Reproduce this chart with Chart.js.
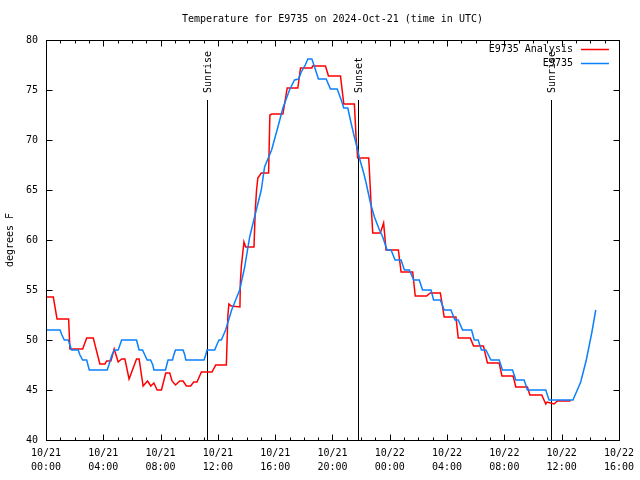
<!DOCTYPE html>
<html><head><meta charset="utf-8">
<script src="https://cdn.jsdelivr.net/npm/chart.js@4"></script>
<style>html,body{margin:0;padding:0;background:#fff}</style>
</head><body>
<canvas id="c" width="640" height="480" style="display:block;width:640px;height:480px"></canvas>
<script>
const chartTitle = 'Temperature for E9735 on 2024-Oct-21 (time in UTC)';
const yAxisLabel = 'degrees F';
const seriesNames = ['E9735 Analysis', 'E9735'];
const seriesColors = ['#ff0000', '#0a80ff'];

// hours since 10/21 00:00 UTC
const analysisHours = [0.05,0.51,0.77,1.58,1.67,2.56,2.84,3.30,3.76,4.11,4.23,4.53,4.76,5.04,5.28,5.51,5.80,6.32,6.50,6.78,7.09,7.32,7.53,7.76,8.06,8.36,8.64,8.80,9.04,9.34,9.57,9.80,10.10,10.31,10.54,10.85,11.59,11.85,12.59,12.70,12.77,12.94,13.54,13.57,13.64,13.82,13.94,14.52,14.61,14.70,14.79,15.03,15.54,15.63,15.77,16.54,16.84,17.58,17.77,18.56,18.61,19.51,19.72,20.56,20.79,21.53,21.65,21.76,22.53,22.70,22.81,23.34,23.57,23.74,24.60,24.79,25.60,25.78,26.57,26.83,27.53,27.80,28.62,28.78,29.62,29.85,30.54,30.82,31.64,31.83,32.61,32.80,33.61,33.78,34.61,34.89,34.98,35.47,35.70,36.63];
const analysisTemps = [54.3,54.3,52.1,52.1,49.1,49.1,50.2,50.2,47.6,47.6,47.9,47.9,49.1,47.8,48.1,48.1,46.1,48.1,48.1,45.4,45.9,45.4,45.7,45.0,45.0,46.7,46.7,45.9,45.5,45.9,45.9,45.4,45.4,45.8,45.8,46.8,46.8,47.5,47.5,52.5,53.6,53.4,53.3,55.8,57.4,59.8,59.3,59.3,63.0,65.0,66.2,66.7,66.7,72.5,72.6,72.6,75.2,75.2,77.2,77.2,77.4,77.4,76.4,76.4,73.6,73.6,70.2,68.2,68.2,63.5,60.7,60.7,61.7,59.0,59.0,56.8,56.8,54.4,54.4,54.7,54.7,52.3,52.3,50.2,50.2,49.4,49.4,47.7,47.7,46.4,46.4,45.3,45.3,44.5,44.5,43.6,43.8,43.6,43.9,43.9];

const obsHours = [0.05,0.98,1.11,1.28,1.55,1.67,1.79,2.25,2.37,2.56,2.84,2.93,3.02,4.27,4.39,4.49,4.60,4.79,5.04,5.16,5.28,6.32,6.41,6.50,6.74,6.90,7.06,7.30,7.46,7.53,8.34,8.43,8.52,8.83,8.92,9.04,9.57,9.69,9.76,11.03,11.15,11.24,11.78,11.92,12.08,12.24,12.54,12.75,12.96,13.24,13.52,13.87,14.22,14.56,15.03,15.26,15.75,16.19,16.54,17.00,17.35,17.63,17.82,18.10,18.28,18.56,18.75,19.02,19.56,19.86,20.33,20.61,20.79,21.07,21.25,21.53,21.76,21.88,22.18,22.35,22.65,22.93,23.28,23.51,23.81,24.09,24.37,24.79,25.02,25.37,25.67,26.06,26.29,26.88,27.06,27.53,27.80,28.27,28.55,28.78,29.08,29.71,29.90,30.17,30.40,30.71,31.06,31.64,31.87,32.57,32.80,33.38,33.61,34.89,35.12,36.79,37.33,37.72,38.10,38.38];
const obsTemps = [51,51,50.5,50,50,49.5,49,49,48.5,48,48,47.5,47,47,47.5,48,48.5,49,49,49.5,50,50,49.5,49,49,48.5,48,48,47.5,47,47,47.5,48,48,48.5,49,49,48.5,48,48,48.5,49,49,49.5,50,50,51,52,53,54,55,57.3,60.3,62.3,65,67.3,69,71.3,73.2,75,76,76.1,76.8,77.5,78.1,78.1,77.3,76.1,76.1,75.1,75.1,74,73.2,73.2,72,70.3,69,68.2,66.7,65.7,63.7,62.3,61,60.3,59,59,58,58,57,57,56,56,55,55,54,54,53,53,52,52,51,51,50,50,49,49,48,48,47,47,46,46,45,45,44,44,45.8,48,50.7,53];

const xTickHours = [0,4,8,12,16,20,24,28,32,36,40];
const xTickDates = ['10/21','10/21','10/21','10/21','10/21','10/21','10/22','10/22','10/22','10/22','10/22'];
const xTickTimes = ['00:00','04:00','08:00','12:00','16:00','20:00','00:00','04:00','08:00','12:00','16:00'];
const yTicks = [40,45,50,55,60,65,70,75,80];

const eventNames = ['Sunrise','Sunset','Sunrise'];
const eventHours = [11.24, 21.76, 35.28];

const FONT = 'DejaVu Sans Mono';
const fontSpec = {family: FONT, size: 10};

function toXY(xs, ys){ return xs.map((x,i)=>({x:x, y:ys[i]})); }

const decor = {
  id: 'decor',
  beforeDatasetsDraw(chart){
    const ctx = chart.ctx, ca = chart.chartArea, xs = chart.scales.x;
    ctx.save();
    ctx.strokeStyle = '#000'; ctx.lineWidth = 1;
    ctx.fillStyle = '#000';
    ctx.font = '10px "' + FONT + '"';
    eventHours.forEach((h,i)=>{
      const px = Math.round(xs.getPixelForValue(h)) + 0.5;
      ctx.beginPath(); ctx.moveTo(px, ca.top + 60); ctx.lineTo(px, ca.bottom); ctx.stroke();
      ctx.save();
      ctx.translate(px, ca.top + 53);
      ctx.rotate(-Math.PI/2);
      ctx.textAlign = 'left'; ctx.textBaseline = 'middle';
      ctx.fillText(eventNames[i], 0, 1);
      ctx.restore();
    });
    ctx.restore();
  },
  afterDraw(chart){
    const ctx = chart.ctx, ca = chart.chartArea, xs = chart.scales.x, ys = chart.scales.y;
    ctx.save();
    ctx.strokeStyle = '#000'; ctx.lineWidth = 1;
    const L = Math.round(ca.left)+0.5, R = Math.round(ca.right)+0.5, T = Math.round(ca.top)+0.5, B = Math.round(ca.bottom)+0.5;
    ctx.strokeRect(L, T, R-L, B-T);
    ctx.beginPath();
    for (let h = xs.min; h <= xs.max; h++){
      const px = Math.round(xs.getPixelForValue(h)) + 0.5;
      const len = (h % 4 === 0) ? 6 : 3;
      ctx.moveTo(px, B); ctx.lineTo(px, B - len);
      ctx.moveTo(px, T); ctx.lineTo(px, T + len);
    }
    yTicks.forEach(v=>{
      const py = Math.round(ys.getPixelForValue(v)) + 0.5;
      ctx.moveTo(L, py); ctx.lineTo(L + 6, py);
      ctx.moveTo(R, py); ctx.lineTo(R - 6, py);
    });
    ctx.stroke();
    // title
    ctx.fillStyle = '#000';
    ctx.font = '10px "' + FONT + '"';
    ctx.textAlign = 'center'; ctx.textBaseline = 'middle';
    ctx.fillText(chartTitle, (ca.left + ca.right)/2, 19);
    // legend
    ctx.textAlign = 'right';
    chart.data.datasets.forEach((ds,i)=>{
      const y = ca.top + 9 + i*14;
      ctx.fillStyle = '#000';
      ctx.fillText(ds.label, ca.right - 46, y);
      ctx.strokeStyle = ds.borderColor; ctx.lineWidth = 1.5;
      ctx.beginPath(); ctx.moveTo(ca.right - 38, Math.round(y)+0.5); ctx.lineTo(ca.right - 10, Math.round(y)+0.5); ctx.stroke();
    });
    ctx.restore();
  }
};

new Chart(document.getElementById('c'), {
  type: 'line',
  data: {
    datasets: [
      {label: seriesNames[0], data: toXY(analysisHours, analysisTemps), borderColor: seriesColors[0], borderWidth: 1.5, pointRadius: 0, tension: 0, fill: false, order: 1},
      {label: seriesNames[1], data: toXY(obsHours, obsTemps), borderColor: seriesColors[1], borderWidth: 1.5, pointRadius: 0, tension: 0, fill: false, order: 0}
    ]
  },
  options: {
    responsive: false,
    animation: false,
    layout: {padding: {top: 40, right: 20, left: 0, bottom: 0}},
    plugins: {legend: {display: false}, title: {display: false}, tooltip: {enabled: false}},
    scales: {
      x: {
        type: 'linear', min: 0, max: 40,
        afterBuildTicks: s => { s.ticks = xTickHours.map(v=>({value:v})); },
        afterFit: s => { s.height = 40; },
        grid: {display: false, drawTicks: false},
        border: {display: false},
        ticks: {autoSkip: false, maxRotation: 0, minRotation: 0, padding: 6, color: '#000', font: {family: FONT, size: 10, lineHeight: 1.4},
          callback: (v, i) => [xTickDates[i], xTickTimes[i]]}
      },
      y: {
        min: 40, max: 80,
        afterBuildTicks: s => { s.ticks = yTicks.map(v=>({value:v})); },
        afterFit: s => { s.width = 46; },
        grid: {display: false, drawTicks: false},
        border: {display: false},
        title: {display: true, text: yAxisLabel, color: '#000', font: fontSpec, padding: {top: 4, bottom: 0}},
        ticks: {padding: 8, color: '#000', font: fontSpec, callback: v => String(v)}
      }
    }
  },
  plugins: [decor]
});
</script>
</body></html>
